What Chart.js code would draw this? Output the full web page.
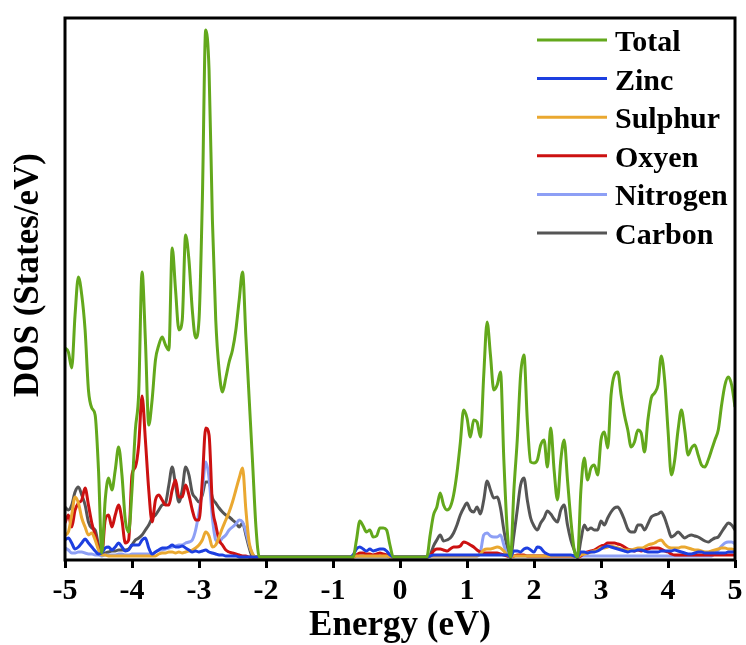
<!DOCTYPE html>
<html>
<head>
<meta charset="utf-8">
<title>DOS</title>
<script src="https://cdn.jsdelivr.net/npm/chart.js@4.4.1/dist/chart.umd.min.js"></script>
<style>
  html, body { margin: 0; padding: 0; background: #fff; }
  canvas { display: block; }
</style>
</head>
<body>
<canvas id="dos" width="746" height="645"></canvas>
<script>
// energy grid (eV), step 0.05
const energies = [
  -5, -4.95, -4.9, -4.85, -4.8, -4.75, -4.7, -4.65, -4.6, -4.55, -4.5, -4.45, -4.4, -4.35, -4.3, -4.25, -4.2, -4.15, -4.1, -4.05,
  -4, -3.95, -3.9, -3.85, -3.8, -3.75, -3.7, -3.65, -3.6, -3.55, -3.5, -3.45, -3.4, -3.35, -3.3, -3.25, -3.2, -3.15, -3.1, -3.05,
  -3, -2.95, -2.9, -2.85, -2.8, -2.75, -2.7, -2.65, -2.6, -2.55, -2.5, -2.45, -2.4, -2.35, -2.3, -2.25, -2.2, -2.15, -2.1, -2.05,
  -2, -1.95, -1.9, -1.85, -1.8, -1.75, -1.7, -1.65, -1.6, -1.55, -1.5, -1.45, -1.4, -1.35, -1.3, -1.25, -1.2, -1.15, -1.1, -1.05,
  -1, -0.95, -0.9, -0.85, -0.8, -0.75, -0.7, -0.65, -0.6, -0.55, -0.5, -0.45, -0.4, -0.35, -0.3, -0.25, -0.2, -0.15, -0.1, -0.05,
  0, 0.05, 0.1, 0.15, 0.2, 0.25, 0.3, 0.35, 0.4, 0.45, 0.5, 0.55, 0.6, 0.65, 0.7, 0.75, 0.8, 0.85, 0.9, 0.95,
  1, 1.05, 1.1, 1.15, 1.2, 1.25, 1.3, 1.35, 1.4, 1.45, 1.5, 1.55, 1.6, 1.65, 1.7, 1.75, 1.8, 1.85, 1.9, 1.95,
  2, 2.05, 2.1, 2.15, 2.2, 2.25, 2.3, 2.35, 2.4, 2.45, 2.5, 2.55, 2.6, 2.65, 2.7, 2.75, 2.8, 2.85, 2.9, 2.95,
  3, 3.05, 3.1, 3.15, 3.2, 3.25, 3.3, 3.35, 3.4, 3.45, 3.5, 3.55, 3.6, 3.65, 3.7, 3.75, 3.8, 3.85, 3.9, 3.95,
  4, 4.05, 4.1, 4.15, 4.2, 4.25, 4.3, 4.35, 4.4, 4.45, 4.5, 4.55, 4.6, 4.65, 4.7, 4.75, 4.8, 4.85, 4.9, 4.95,
  5
];

const totalDos = [
  41.8, 41.0, 37.8, 48.4, 56.0, 52.4, 45.4, 33.4, 29.8, 28.4, 17.4, 0.8, 11.4, 15.8, 13.4, 17.4, 22.0, 16.4, 7.4, 5.0,
  13.4, 25.4, 32.8, 57.0, 43.4, 26.4, 31.4, 39.4, 42.4, 44.0, 42.4, 41.4, 61.8, 53.4, 45.4, 47.4, 64.4, 59.4, 49.4, 43.8,
  47.4, 71.4, 105.4, 97.4, 67.4, 47.4, 37.4, 33.0, 35.8, 39.0, 41.4, 45.4, 51.4, 57.0, 44.0, 31.4, 18.8, 6.0, 0, 0,
  0, 0, 0, 0, 0, 0, 0, 0, 0, 0, 0, 0, 0, 0, 0, 0, 0, 0, 0, 0,
  0, 0, 0, 0, 0, 0, 0, 3.4, 7.2, 6.2, 5.0, 5.4, 4.0, 4.2, 5.8, 5.8, 5.4, 2.4, 0, 0,
  0, 0, 0, 0, 0, 0, 0, 0, 0, 4.4, 8.4, 10.0, 12.8, 10.4, 9.4, 10.0, 12.4, 16.8, 22.8, 29.4,
  27.8, 24.0, 27.4, 27.0, 24.0, 36.4, 47.0, 40.4, 33.4, 34.4, 37.0, 19.4, 5.4, 0, 13.4, 23.4, 36.4, 40.4, 27.4, 19.0,
  18.8, 19.4, 22.4, 23.4, 18.0, 25.8, 17.4, 11.4, 19.4, 23.4, 15.4, 7.4, 1.4, 0, 13.4, 19.8, 15.4, 17.8, 18.4, 16.4,
  23.4, 25.0, 21.8, 32.4, 36.4, 37.0, 32.4, 28.4, 25.4, 22.0, 23.0, 25.4, 24.8, 21.0, 27.4, 31.8, 32.8, 34.4, 40.2, 35.4,
  25.4, 16.4, 19.4, 25.4, 29.4, 25.4, 20.4, 21.8, 22.4, 20.4, 18.4, 18.0, 19.4, 21.4, 23.4, 25.4, 30.4, 34.4, 36.0, 34.4,
  30.0
];

const zincDos = [
  3.4, 3.8, 2.8, 1.6, 2.0, 2.8, 3.6, 2.8, 2.0, 1.2, 0.6, 0.8, 1.8, 2.0, 1.4, 2.0, 2.8, 2.0, 1.2, 1.4,
  2.4, 2.4, 2.4, 3.4, 3.8, 1.8, 0.6, 1.0, 1.4, 1.8, 1.8, 2.0, 2.4, 2.0, 2.0, 2.2, 1.8, 1.4, 1.0, 1.2,
  1.0, 1.2, 1.4, 1.0, 0.8, 0.6, 0.4, 0.4, 0.2, 0.2, 0.2, 0.2, 0, 0, 0, 0, 0, 0, 0, 0,
  0, 0, 0, 0, 0, 0, 0, 0, 0, 0, 0, 0, 0, 0, 0, 0, 0, 0, 0, 0,
  0, 0, 0, 0, 0, 0, 0.4, 1.6, 2.0, 1.6, 1.2, 1.6, 1.2, 1.4, 1.6, 1.6, 1.2, 0.4, 0, 0,
  0, 0, 0, 0, 0, 0, 0, 0, 0, 0.2, 0.4, 0.4, 0.4, 0.4, 0.4, 0.4, 0.4, 0.4, 0.4, 0.4,
  0.4, 0.4, 0.4, 0.4, 0.4, 0.4, 0.4, 0.4, 0.4, 0.4, 0.4, 0.4, 0.4, 0, 1.2, 1.2, 1.0, 1.6, 1.8, 1.4,
  1.0, 2.0, 1.8, 1.0, 0.6, 0.4, 0.4, 0.4, 0.4, 0.4, 0.4, 0.4, 0.2, 0, 1.0, 1.0, 0.8, 1.0, 1.0, 1.2,
  1.6, 2.0, 2.2, 2.0, 1.8, 1.6, 1.4, 1.2, 1.0, 1.2, 1.2, 1.4, 1.4, 1.2, 1.0, 1.0, 1.0, 1.0, 1.2, 1.2,
  1.2, 1.2, 1.4, 1.2, 1.0, 0.8, 0.6, 0.6, 0.8, 1.0, 1.0, 0.8, 0.8, 0.8, 0.8, 0.8, 0.8, 0.8, 1.0, 1.0,
  1.0
];

const sulphurDos = [
  4.4, 5.0, 8.4, 12.0, 10.8, 7.8, 6.0, 4.4, 4.8, 3.4, 1.4, 0.4, 0.4, 0.2, 0.2, 0.2, 0.2, 0.2, 0.2, 0.2,
  0.2, 0.2, 0.2, 0.2, 0.2, 0.2, 0.2, 0.2, 0.6, 0.8, 0.8, 1.0, 1.0, 0.8, 1.0, 0.8, 1.0, 1.2, 1.4, 1.8,
  2.4, 3.4, 5.0, 4.2, 2.0, 2.4, 4.0, 5.8, 7.4, 9.0, 11.0, 13.4, 15.8, 17.8, 9.4, 2.8, 0.6, 0, 0, 0,
  0, 0, 0, 0, 0, 0, 0, 0, 0, 0, 0, 0, 0, 0, 0, 0, 0, 0, 0, 0,
  0, 0, 0, 0, 0, 0, 0, 0.2, 0.2, 0.2, 0.2, 0.2, 0.2, 0.2, 0.2, 0.2, 0.2, 0, 0, 0,
  0, 0, 0, 0, 0, 0, 0, 0, 0, 0.2, 0.2, 0.2, 0.2, 0.2, 0.2, 0.2, 0.2, 0.2, 0.2, 0.2,
  0.2, 0.2, 0.2, 0.2, 0.6, 1.4, 1.6, 1.6, 1.8, 2.0, 1.8, 1.2, 0.4, 0, 0.2, 0.2, 0.2, 0.2, 0.2, 0.2,
  0.2, 0.2, 0.2, 0.2, 0.2, 0.2, 0.2, 0.2, 0.2, 0.2, 0.2, 0.2, 0.2, 0, 0.4, 0.6, 0.8, 1.0, 1.2, 1.4,
  1.8, 1.8, 2.0, 2.2, 2.0, 1.8, 1.6, 1.4, 1.4, 1.4, 1.6, 1.8, 1.8, 2.0, 2.4, 2.6, 2.8, 3.2, 3.4, 2.6,
  2.0, 1.8, 1.8, 1.8, 2.0, 2.0, 1.8, 1.6, 1.4, 1.4, 1.2, 1.0, 1.0, 1.2, 1.4, 1.6, 1.8, 1.8, 1.6, 1.6,
  1.4
];

const oxyenDos = [
  6.8, 8.4, 6.0, 9.4, 10.8, 11.4, 13.8, 10.4, 6.8, 4.4, 1.8, 0.6, 7.4, 8.4, 6.0, 8.4, 10.4, 7.4, 2.8, 3.4,
  16.4, 18.0, 22.4, 32.2, 23.4, 13.4, 7.0, 11.4, 12.4, 11.4, 10.4, 10.4, 13.4, 15.4, 12.0, 12.0, 14.4, 12.4, 9.4, 7.4,
  7.4, 15.4, 25.8, 24.4, 10.4, 6.4, 3.4, 2.4, 1.4, 1.0, 0.8, 0.6, 0.4, 0.2, 0.2, 0, 0, 0, 0, 0,
  0, 0, 0, 0, 0, 0, 0, 0, 0, 0, 0, 0, 0, 0, 0, 0, 0, 0, 0, 0,
  0, 0, 0, 0, 0, 0, 0, 0.4, 0.8, 0.8, 0.6, 0.6, 0.4, 0.6, 0.8, 0.6, 0.4, 0.2, 0, 0,
  0, 0, 0, 0, 0, 0, 0, 0, 0, 0.2, 1.2, 1.6, 1.6, 1.4, 1.2, 1.6, 2.0, 2.0, 2.2, 3.0,
  2.8, 2.4, 2.0, 1.4, 1.0, 0.8, 0.8, 0.8, 0.8, 0.8, 0.6, 0.4, 0.2, 0, 0.2, 0.4, 0.4, 0.4, 0.2, 0.2,
  0.2, 0.2, 0.2, 0.2, 0.2, 0.2, 0.2, 0.2, 0.2, 0.2, 0.2, 0.2, 0.2, 0, 0.2, 0.8, 1.0, 1.2, 1.4, 1.8,
  2.2, 2.4, 2.8, 2.8, 2.8, 2.6, 2.4, 2.0, 1.6, 1.4, 1.2, 1.4, 1.2, 1.4, 1.6, 1.8, 1.8, 1.8, 1.6, 1.2,
  1.0, 0.6, 0.4, 0.4, 0.4, 0.4, 0.4, 0.4, 0.4, 0.4, 0.4, 0.4, 0.4, 0.4, 0.4, 0.4, 0.4, 0.4, 0.4, 0.4,
  0.4
];

const nitrogenDos = [
  1.8, 1.4, 0.8, 0.8, 1.0, 1.0, 0.8, 0.6, 0.6, 0.4, 0.4, 0.2, 0.4, 0.4, 0.4, 0.4, 0.6, 0.6, 0.4, 0.4,
  0.6, 0.6, 0.6, 0.6, 0.6, 0.6, 0.6, 1.0, 1.4, 1.4, 1.6, 1.8, 2.0, 2.2, 2.4, 2.4, 2.8, 3.0, 3.4, 5.4,
  9.0, 13.4, 19.0, 15.8, 7.8, 3.4, 3.0, 3.8, 4.4, 5.4, 6.0, 6.6, 7.4, 7.0, 5.0, 2.4, 0.6, 0, 0, 0,
  0, 0, 0, 0, 0, 0, 0, 0, 0, 0, 0, 0, 0, 0, 0, 0, 0, 0, 0, 0,
  0, 0, 0, 0, 0, 0, 0, 0.4, 0.4, 0.4, 0.4, 0.4, 0.4, 0.4, 0.4, 0.4, 0.4, 0, 0, 0,
  0, 0, 0, 0, 0, 0, 0, 0, 0, 0.2, 0.2, 0.2, 0.2, 0.2, 0.2, 0.2, 0.2, 0.2, 0.2, 0.2,
  0.2, 0.2, 0.2, 0.2, 1.0, 4.4, 4.8, 4.2, 4.0, 4.0, 4.4, 2.4, 0.4, 0, 0.2, 0.2, 0.2, 0.2, 0.2, 0.2,
  0.2, 0.2, 0.2, 0.2, 0.2, 0.2, 0.2, 0.2, 0.2, 0.2, 0.2, 0.2, 0.2, 0, 0.2, 0.2, 0.2, 0.2, 0.2, 0.2,
  0.2, 0.2, 0.2, 0.2, 0.2, 0.2, 0.2, 0.2, 0.2, 0.2, 0.2, 0.2, 0.2, 0.2, 0.2, 0.2, 0.2, 0.2, 0.2, 0.2,
  0.2, 0.2, 0.2, 0.2, 0.2, 0.2, 0.2, 0.2, 0.2, 0.2, 0.2, 0.2, 0.2, 0.2, 0.8, 1.4, 2.2, 2.8, 3.0, 3.0,
  2.6
];

const carbonDos = [
  10.0, 9.4, 10.4, 13.0, 14.0, 12.4, 10.4, 7.0, 5.8, 5.4, 2.4, 0.4, 0.8, 1.0, 1.2, 1.2, 1.4, 1.4, 1.4, 1.6,
  2.4, 3.4, 3.8, 4.4, 5.4, 6.4, 7.8, 8.4, 9.4, 10.4, 10.8, 14.4, 18.0, 14.4, 11.0, 13.4, 18.0, 16.4, 12.8, 11.8,
  11.0, 12.4, 15.0, 15.0, 11.8, 10.8, 9.8, 9.0, 8.4, 8.0, 7.4, 6.8, 6.0, 6.8, 4.4, 1.8, 0, 0, 0, 0,
  0, 0, 0, 0, 0, 0, 0, 0, 0, 0, 0, 0, 0, 0, 0, 0, 0, 0, 0, 0,
  0, 0, 0, 0, 0, 0, 0, 0.2, 0.2, 0.2, 0.2, 0.2, 0.2, 0.2, 0.2, 0.2, 0.2, 0, 0, 0,
  0, 0, 0, 0, 0, 0, 0, 0, 0, 0.4, 2.2, 3.4, 4.4, 3.2, 3.4, 3.8, 4.8, 6.4, 8.4, 9.8,
  10.8, 9.4, 9.0, 10.0, 8.6, 11.4, 15.2, 13.4, 11.8, 12.0, 9.8, 5.4, 2.0, 0, 4.4, 9.4, 14.4, 15.8, 11.4, 7.8,
  6.2, 5.4, 6.8, 7.8, 9.2, 8.6, 7.6, 7.0, 9.4, 10.4, 6.4, 3.4, 1.4, 0, 3.4, 6.4, 5.4, 5.8, 5.4, 5.4,
  7.2, 6.4, 7.8, 9.0, 9.8, 10.0, 9.0, 7.4, 5.6, 5.0, 5.0, 6.4, 6.4, 5.4, 6.6, 8.0, 8.4, 8.6, 9.0, 7.8,
  5.8, 4.0, 4.4, 5.0, 4.4, 3.8, 4.2, 4.4, 4.2, 4.0, 3.6, 3.2, 3.0, 3.4, 3.8, 4.0, 5.0, 6.0, 6.8, 6.4,
  5.4
];

const energyTicks = [-5, -4, -3, -2, -1, 0, 1, 2, 3, 4, 5];

const seriesNames = ['Total', 'Zinc', 'Sulphur', 'Oxyen', 'Nitrogen', 'Carbon'];
const seriesColors = ['#63a81c', '#1d3fe0', '#eaa830', '#cc1111', '#8d9ff5', '#555555'];
const seriesValues = [totalDos, zincDos, sulphurDos, oxyenDos, nitrogenDos, carbonDos];

const serif = "'Liberation Serif', 'Times New Roman', serif";

// box round the plot area + rotated y title
const framePlugin = {
  id: 'frame',
  afterDatasetsDraw(chart) {
    const { ctx, chartArea: a } = chart;
    ctx.save();
    ctx.strokeStyle = '#000';
    ctx.lineWidth = 3;
    ctx.strokeRect(a.left, a.top, a.right - a.left, a.bottom - a.top);

    ctx.translate(29, 275);
    ctx.rotate(-Math.PI / 2);
    ctx.fillStyle = '#000';
    ctx.font = 'bold 35px ' + serif;
    ctx.textAlign = 'center';
    ctx.textBaseline = 'middle';
    ctx.fillText('DOS (States/eV)', 0, 0);
    ctx.restore();
  }
};

// legend inside the top right corner: coloured line + bold label
const lineLegendPlugin = {
  id: 'lineLegend',
  afterDraw(chart) {
    const ctx = chart.ctx;
    const x0 = 537, x1 = 607, y0 = 40, step = 38.6;
    ctx.save();
    ctx.font = 'bold 30px ' + serif;
    ctx.textAlign = 'left';
    ctx.textBaseline = 'alphabetic';
    chart.data.datasets.forEach((ds, i) => {
      const y = y0 + i * step;
      ctx.strokeStyle = ds.borderColor;
      ctx.lineWidth = 3;
      ctx.beginPath();
      ctx.moveTo(x0, y);
      ctx.lineTo(x1, y);
      ctx.stroke();
      ctx.fillStyle = '#000';
      ctx.fillText(ds.label, 615, y + 11);
    });
    ctx.restore();
  }
};

new Chart(document.getElementById('dos'), {
  type: 'line',
  data: {
    datasets: seriesNames.map((name, k) => ({
      label: name,
      data: energies.map((e, i) => ({ x: e, y: seriesValues[k][i] })),
      borderColor: seriesColors[k],
      backgroundColor: seriesColors[k],
      borderWidth: 3,
      pointRadius: 0,
      cubicInterpolationMode: 'monotone',
      fill: false
    }))
  },
  options: {
    responsive: false,
    animation: false,
    devicePixelRatio: 1,
    layout: { padding: { top: 18, right: 11, left: 0, bottom: 0 } },
    plugins: {
      legend: { display: false },
      tooltip: { enabled: false }
    },
    scales: {
      x: {
        type: 'linear',
        min: -5,
        max: 5,
        afterBuildTicks: (scale) => {
          scale.ticks = energyTicks.map(v => ({ value: v }));
        },
        afterFit: (scale) => {
          scale.height = 85;
          scale.paddingLeft = 0;
          scale.paddingRight = 0;
        },
        ticks: {
          color: '#000',
          padding: 8,
          font: { family: serif, size: 30, weight: 'bold', lineHeight: 1 }
        },
        grid: {
          display: true,
          drawOnChartArea: false,
          drawTicks: true,
          tickLength: 8,
          tickWidth: 3,
          tickColor: '#000'
        },
        border: { display: false },
        title: {
          display: true,
          text: 'Energy (eV)',
          color: '#000',
          font: { family: serif, size: 35, weight: 'bold', lineHeight: 1 },
          padding: { top: 0, bottom: 2 }
        }
      },
      y: {
        min: -0.6,
        max: 107.8,
        afterFit: (scale) => { scale.width = 65; },
        ticks: { display: false },
        grid: { display: false },
        border: { display: false }
      }
    }
  },
  plugins: [framePlugin, lineLegendPlugin]
});
</script>
</body>
</html>
